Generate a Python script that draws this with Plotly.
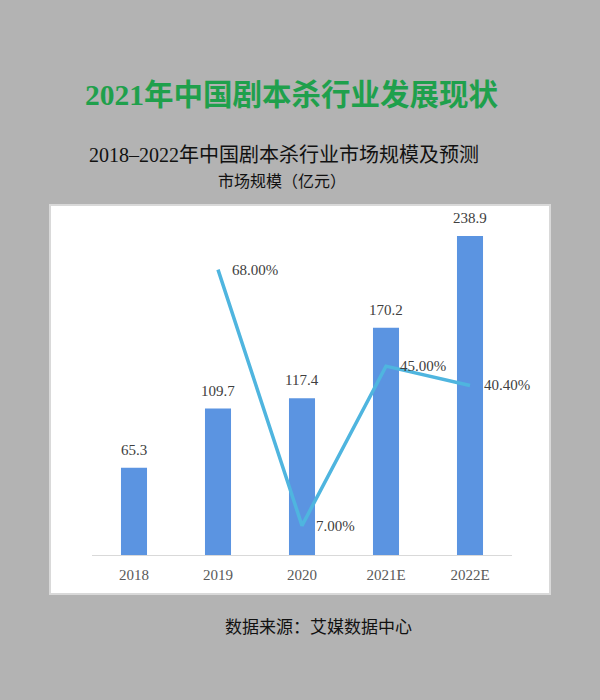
import plotly.graph_objects as go

years = ["2018", "2019", "2020", "2021E", "2022E"]
market_size = [65.3, 109.7, 117.4, 170.2, 238.9]
growth_years = ["2019", "2020", "2021E", "2022E"]
growth_rate = [68.00, 7.00, 45.00, 40.40]
growth_labels = ["68.00%", "7.00%", "45.00%", "40.40%"]

W, H = 600, 700
L, R, T, B = 92, 88, 180, 145
PW, PH = W - L - R, H - T - B

def px(x):
    return (x - L) / PW

def py(y):
    return (H - B - y) / PH

Y1MAX = PH / 1.335
Y2MAX = PH / 4.197

SERIF = "Liberation Serif, Noto Sans CJK SC, serif"
CJK = "Noto Sans CJK SC, sans-serif"

fig = go.Figure()
fig.add_trace(go.Bar(
    x=years, y=market_size, marker=dict(color="#5b94e1", line=dict(width=0)),
    yaxis="y", showlegend=False, hoverinfo="skip",
))
fig.add_trace(go.Scatter(
    x=growth_years, y=growth_rate, mode="lines", yaxis="y2",
    line=dict(color="#4fb5df", width=3.5), showlegend=False, hoverinfo="skip",
))

annotations = []
for c, v in zip(years, market_size):
    annotations.append(dict(
        x=years.index(c), y=v, xref="x", yref="y", text=f"{v:.1f}", showarrow=False,
        xanchor="center", yanchor="bottom", yshift=8,
        font=dict(family=SERIF, size=15, color="#404040"),
    ))
for c, v, t in zip(growth_years, growth_rate, growth_labels):
    annotations.append(dict(
        x=years.index(c), y=v, xref="x", yref="y2", text=t, showarrow=False,
        xanchor="left", yanchor="middle", xshift=12,
        font=dict(family=SERIF, size=15, color="#404040"),
    ))

title_text = "2021年中国剧本杀行业发展现状"

annotations += [
    dict(x=px(292), y=py(95), xref="paper", yref="paper", showarrow=False,
         text="<b>" + title_text + "</b>",
         xanchor="center", yanchor="middle",
         font=dict(family=SERIF, size=29.5, color="#1fa04c")),
    dict(x=px(284), y=py(155), xref="paper", yref="paper", showarrow=False,
         text="2018–2022年中国剧本杀行业市场规模及预测",
         xanchor="center", yanchor="middle", borderpad=0,
         font=dict(family=SERIF, size=20, color="#111111")),
    dict(x=px(282), y=py(180), xref="paper", yref="paper", showarrow=False,
         text="市场规模（亿元）",
         xanchor="center", yanchor="middle", borderpad=0,
         font=dict(family=CJK, size=16, color="#111111")),
    dict(x=px(318), y=py(625), xref="paper", yref="paper", showarrow=False,
         text="数据来源：艾媒数据中心",
         xanchor="center", yanchor="middle",
         font=dict(family=CJK, size=17, color="#111111")),
]

shapes = [dict(
    type="rect", xref="paper", yref="paper", layer="below",
    x0=px(50), x1=px(550), y0=py(594), y1=py(205),
    fillcolor="white", line=dict(color="#d9d9d9", width=2),
)]

fig.update_layout(
    width=W, height=H,
    margin=dict(l=L, r=R, t=T, b=B, autoexpand=False),
    paper_bgcolor="#b3b3b3", plot_bgcolor="rgba(0,0,0,0)",
    bargap=0.69,
    xaxis=dict(
        type="category", range=[-0.5, 4.5], autorange=False,
        showline=True, linecolor="#d9d9d9", linewidth=1,
        showgrid=False, zeroline=False, ticks="", ticklabelstandoff=6,
        tickfont=dict(family=SERIF, size=15, color="#595959"),
    ),
    yaxis=dict(range=[0, Y1MAX], autorange=False, visible=False, showgrid=False, zeroline=False),
    yaxis2=dict(range=[0, Y2MAX], autorange=False, overlaying="y", side="right", visible=False,
                showgrid=False, zeroline=False),
    annotations=annotations, shapes=shapes,
)

fig.write_html(
    "out.html",
    config={"displayModeBar": False},
    post_script="document.body.style.margin='0';document.body.style.background='#b3b3b3';",
)
